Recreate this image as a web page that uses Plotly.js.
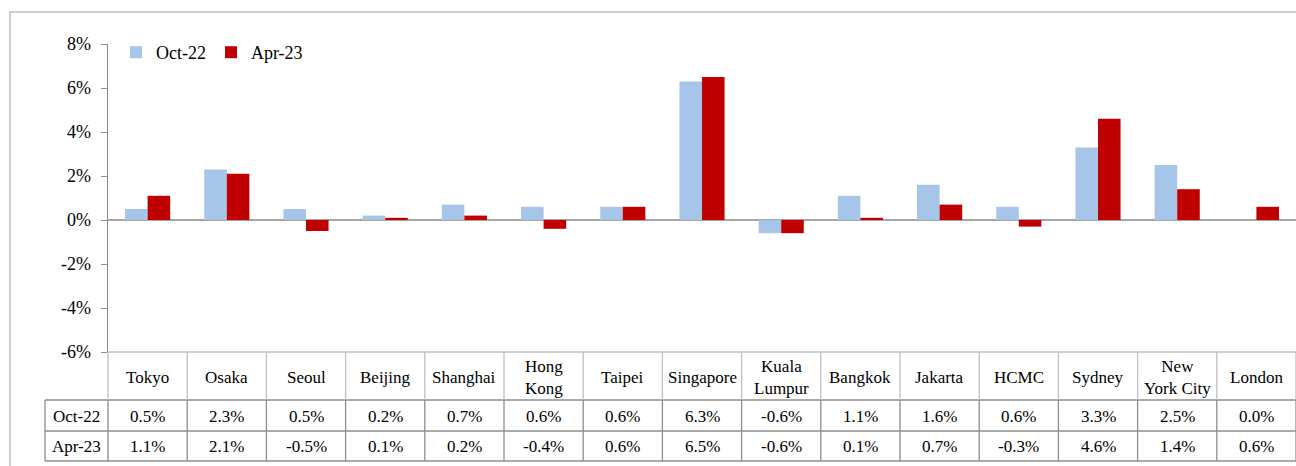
<!DOCTYPE html>
<html><head><meta charset="utf-8">
<script src="https://cdn.plot.ly/plotly-3.0.1.min.js"></script>
<style>html,body{margin:0;padding:0;background:#fff}#chart{width:1296px;height:466px}</style>
</head><body><div id="chart"></div>
<script>
const cities = ["Tokyo","Osaka","Seoul","Beijing","Shanghai","Hong Kong","Taipei","Singapore","Kuala Lumpur","Bangkok","Jakarta","HCMC","Sydney","New York City","London"];
const cityLabels = ["Tokyo","Osaka","Seoul","Beijing","Shanghai","Hong<br>Kong","Taipei","Singapore","Kuala<br>Lumpur","Bangkok","Jakarta","HCMC","Sydney","New<br>York City","London"];
const oct22 = [0.5,2.3,0.5,0.2,0.7,0.6,0.6,6.3,-0.6,1.1,1.6,0.6,3.3,2.5,0.0];
const apr23 = [1.1,2.1,-0.5,0.1,0.2,-0.4,0.6,6.5,-0.6,0.1,0.7,-0.3,4.6,1.4,0.6];
const seriesNames = ["Oct-22","Apr-23"];
const yTicks = [-6,-4,-2,0,2,4,6,8];

const W=1296,H=466,L=108,R=0,T=44,B=114;
const pw=W-L-R, ph=H-T-B;
const px2x = p => (p-L)/pw;
const py2y = p => (H-B-p)/ph;
const FONT = "Liberation Serif";

const traces = [
  {type:'bar', name:seriesNames[0], x:cities, y:oct22, marker:{color:'#A6C5E9', line:{width:0}}},
  {type:'bar', name:seriesNames[1], x:cities, y:apr23, marker:{color:'#C00000', line:{width:0}}}
];

const shapes = [];
const annotations = [];
// outer frame
shapes.push({type:'rect', xref:'paper', yref:'paper', x0:px2x(10), x1:px2x(1300), y0:py2y(470), y1:py2y(12), line:{color:'#BFBFBF', width:1.5}});
// table horizontal lines
shapes.push({type:'line', xref:'paper', yref:'paper', x0:0, x1:1, y0:0, y1:0, line:{color:'#BFBFBF', width:1.3}});
[400,431,461].forEach(p=>{
  shapes.push({type:'line', xref:'paper', yref:'paper', x0:px2x(45), x1:1, y0:py2y(p), y1:py2y(p), line:{color:'#8C8C8C', width:1.3}});
});
// vertical lines
for(let i=0;i<=cities.length;i++){
  shapes.push({type:'line', xref:'paper', yref:'paper', x0:i/cities.length, x1:i/cities.length, y0:py2y(352), y1:py2y(400), line:{color:'#BFBFBF', width:1.3}});
  shapes.push({type:'line', xref:'paper', yref:'paper', x0:i/cities.length, x1:i/cities.length, y0:py2y(400), y1:py2y(461), line:{color:'#8C8C8C', width:1.3}});
}
shapes.push({type:'line', xref:'paper', yref:'paper', x0:px2x(45), x1:px2x(45), y0:py2y(400), y1:py2y(461), line:{color:'#8C8C8C', width:1.3}});

const fmt = v => v.toFixed(1)+'%';
const tf = {family:FONT,size:17,color:'#000'};
cities.forEach((c,i)=>{
  annotations.push({xref:'x', yref:'paper', x:c, y:py2y(377), text:cityLabels[i], showarrow:false, font:tf, xanchor:'center', yanchor:'middle'});
  annotations.push({xref:'x', yref:'paper', x:c, y:py2y(416), text:fmt(oct22[i]), showarrow:false, font:tf, xanchor:'center', yanchor:'middle'});
  annotations.push({xref:'x', yref:'paper', x:c, y:py2y(446.5), text:fmt(apr23[i]), showarrow:false, font:tf, xanchor:'center', yanchor:'middle'});
});
annotations.push({xref:'paper', yref:'paper', x:px2x(76.5), y:py2y(416), text:seriesNames[0], showarrow:false, font:tf, xanchor:'center', yanchor:'middle'});
annotations.push({xref:'paper', yref:'paper', x:px2x(76.5), y:py2y(446.5), text:seriesNames[1], showarrow:false, font:tf, xanchor:'center', yanchor:'middle'});

const layout = {
  width:W, height:H,
  margin:{l:L, r:R, t:T, b:B, pad:0},
  paper_bgcolor:'#fff', plot_bgcolor:'#fff',
  barmode:'group', bargap:0.43, bargroupgap:0,
  font:tf,
  showlegend:true,
  legend:{orientation:'h', x:px2x(116), y:py2y(34), xanchor:'left', yanchor:'top', bgcolor:'rgba(0,0,0,0)', font:{family:FONT,size:18,color:'#000'}, itemwidth:30, traceorder:'normal'},
  xaxis:{type:'category', showticklabels:false, ticks:'', showgrid:false, zeroline:false, showline:false, fixedrange:true},
  yaxis:{range:[-6,8], tickvals:yTicks, ticktext:yTicks.map(v=>v+'%'), ticks:'outside', ticklen:6, tickcolor:'#8C8C8C', showgrid:false,
         ticklabelstandoff:6,
         zeroline:true, zerolinecolor:'#A6A6A6', zerolinewidth:1.5, showline:true, linecolor:'#8C8C8C', linewidth:1.3,
         tickfont:{family:FONT,size:18,color:'#000'}, fixedrange:true},
  shapes:shapes, annotations:annotations
};
Plotly.newPlot('chart', traces, layout, {staticPlot:true, displayModeBar:false});
</script></body></html>
